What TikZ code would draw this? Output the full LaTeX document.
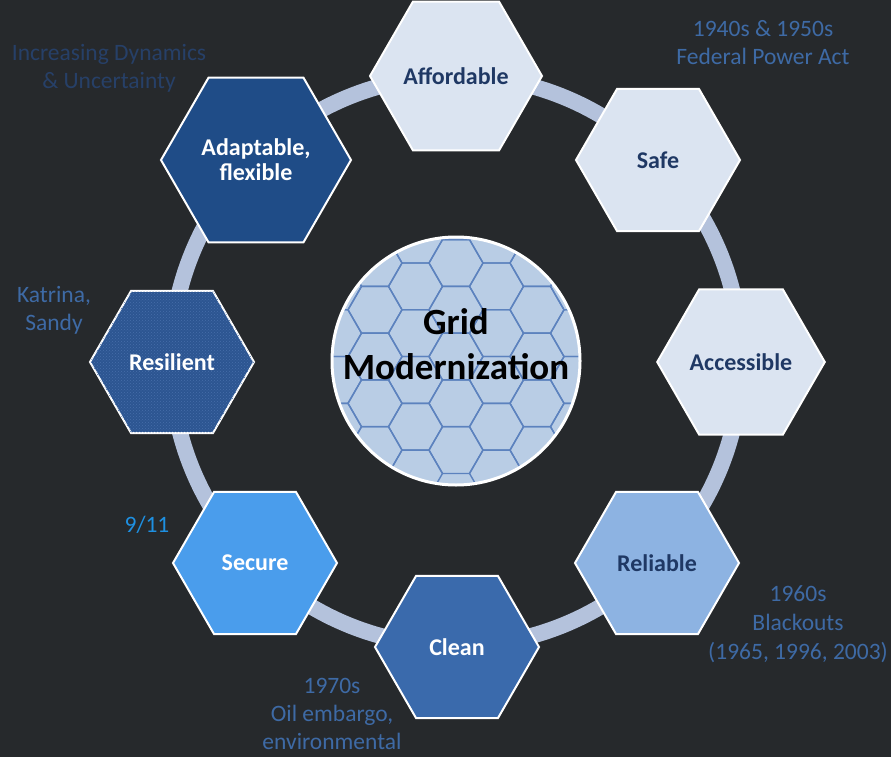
\documentclass[tikz,border=0pt]{standalone}
\usepackage{fontspec}
\setmainfont{Carlito}
\usepackage{tikz}
\usetikzlibrary{shapes.geometric}
\usetikzlibrary{patterns}
\definecolor{bgcol}{RGB}{38,41,44}
\definecolor{ringcol}{RGB}{180,194,220}
\definecolor{palehex}{RGB}{219,228,241}
\definecolor{navytext}{RGB}{31,56,100}
\definecolor{reliablecol}{RGB}{141,179,226}
\definecolor{cleancol}{RGB}{58,106,172}
\definecolor{securecol}{RGB}{74,157,236}
\definecolor{resilientcol}{RGB}{44,85,145}
\definecolor{resilientdot}{RGB}{70,110,170}
\definecolor{adaptcol}{RGB}{31,76,135}
\definecolor{notecol}{RGB}{62,106,165}
\definecolor{dimnote}{RGB}{38,64,104}
\definecolor{brightnote}{RGB}{30,144,226}
\definecolor{hubfill}{RGB}{185,205,229}
\definecolor{cellline}{RGB}{92,130,190}
\tikzset{hexcell/.style = {shape=regular polygon, regular polygon sides=6, minimum size=164pt,
    inner sep=0pt, draw=white, line width=2pt, align=center,
    font=\fontsize{24}{25}\selectfont\bfseries}}
\tikzset{note/.style = {align=center, text=notecol, font=\fontsize{23.5}{28}\selectfont}}

\begin{document}
\begin{tikzpicture}[x=1pt,y=-1pt]
    \fill[bgcol] (0,0) rectangle (891,757);
    \useasboundingbox (0,0) rectangle (891,757);

    \node[circle, minimum size=248pt, inner sep=0pt, fill=hubfill] (gm) at (456,361) {};
    \draw[ringcol, line width=16pt] (gm.center) circle (285pt);

    % honeycomb inside the hub
    \begin{scope}
        \clip (gm.center) circle (124pt);
        \foreach \i in {-5,...,5}
            \foreach \j in {-5,...,4}
                \draw[cellline, line width=1.4pt]
                    ({456+40.5*\i},{263+46.77*\j+23.38*mod(abs(\i),2)})
                    ++(0:27) -- ++(120:27) -- ++(180:27) -- ++(240:27)
                    -- ++(300:27) -- ++(0:27) -- cycle;
    \end{scope}
    \draw[white, line width=3pt] (gm.center) circle (124pt);
    \node[align=center, text=black, font=\fontsize{37}{45}\selectfont\bfseries] (gmtext) at (456,344) {Grid\\Modernization};

    \node[hexcell, fill=palehex, text=navytext, minimum size=170pt] (afford) at (456,76) {Affordable};
    \node[hexcell, fill=palehex, text=navytext] (safe) at (658,160) {Safe};
    \node[hexcell, fill=palehex, text=navytext] (access) at (741,362) {Accessible};
    \node[hexcell, fill=reliablecol, text=navytext] (reliable) at (657,563) {Reliable};
    \node[hexcell, fill=cleancol, text=white] (clean) at (457,647) {Clean};
    \node[hexcell, fill=securecol, text=white] (secure) at (255,563) {Secure};
    \node[hexcell, fill=resilientcol, text=white,
        postaction={pattern=crosshatch dots, pattern color=resilientdot}] (resil) at (172,362) {};
    \node[text=white, font=\fontsize{24}{25}\selectfont\bfseries] (resiltext) at (resil) {Resilient};
    \node[hexcell, fill=adaptcol, text=white, minimum size=190pt] (adapt) at (256,160) {Adaptable,\\flexible};

    \node[note] (fpa) at (763,43) {1940s \& 1950s\\Federal Power Act};
    \node[note, text=dimnote] (idu) at (109,68) {Increasing Dynamics\\\& Uncertainty};
    \node[note] (kat) at (54,310) {Katrina,\\Sandy};
    \node[note, text=brightnote] (nine) at (147,525) {9/11};
    \node[note, font=\fontsize{23.5}{29}\selectfont] (blk) at (798,624) {1960s\\Blackouts\\(1965, 1996, 2003)};
    \node[note] (oil) at (332,714) {1970s\\Oil embargo,\\environmental};
\end{tikzpicture}
\end{document}
